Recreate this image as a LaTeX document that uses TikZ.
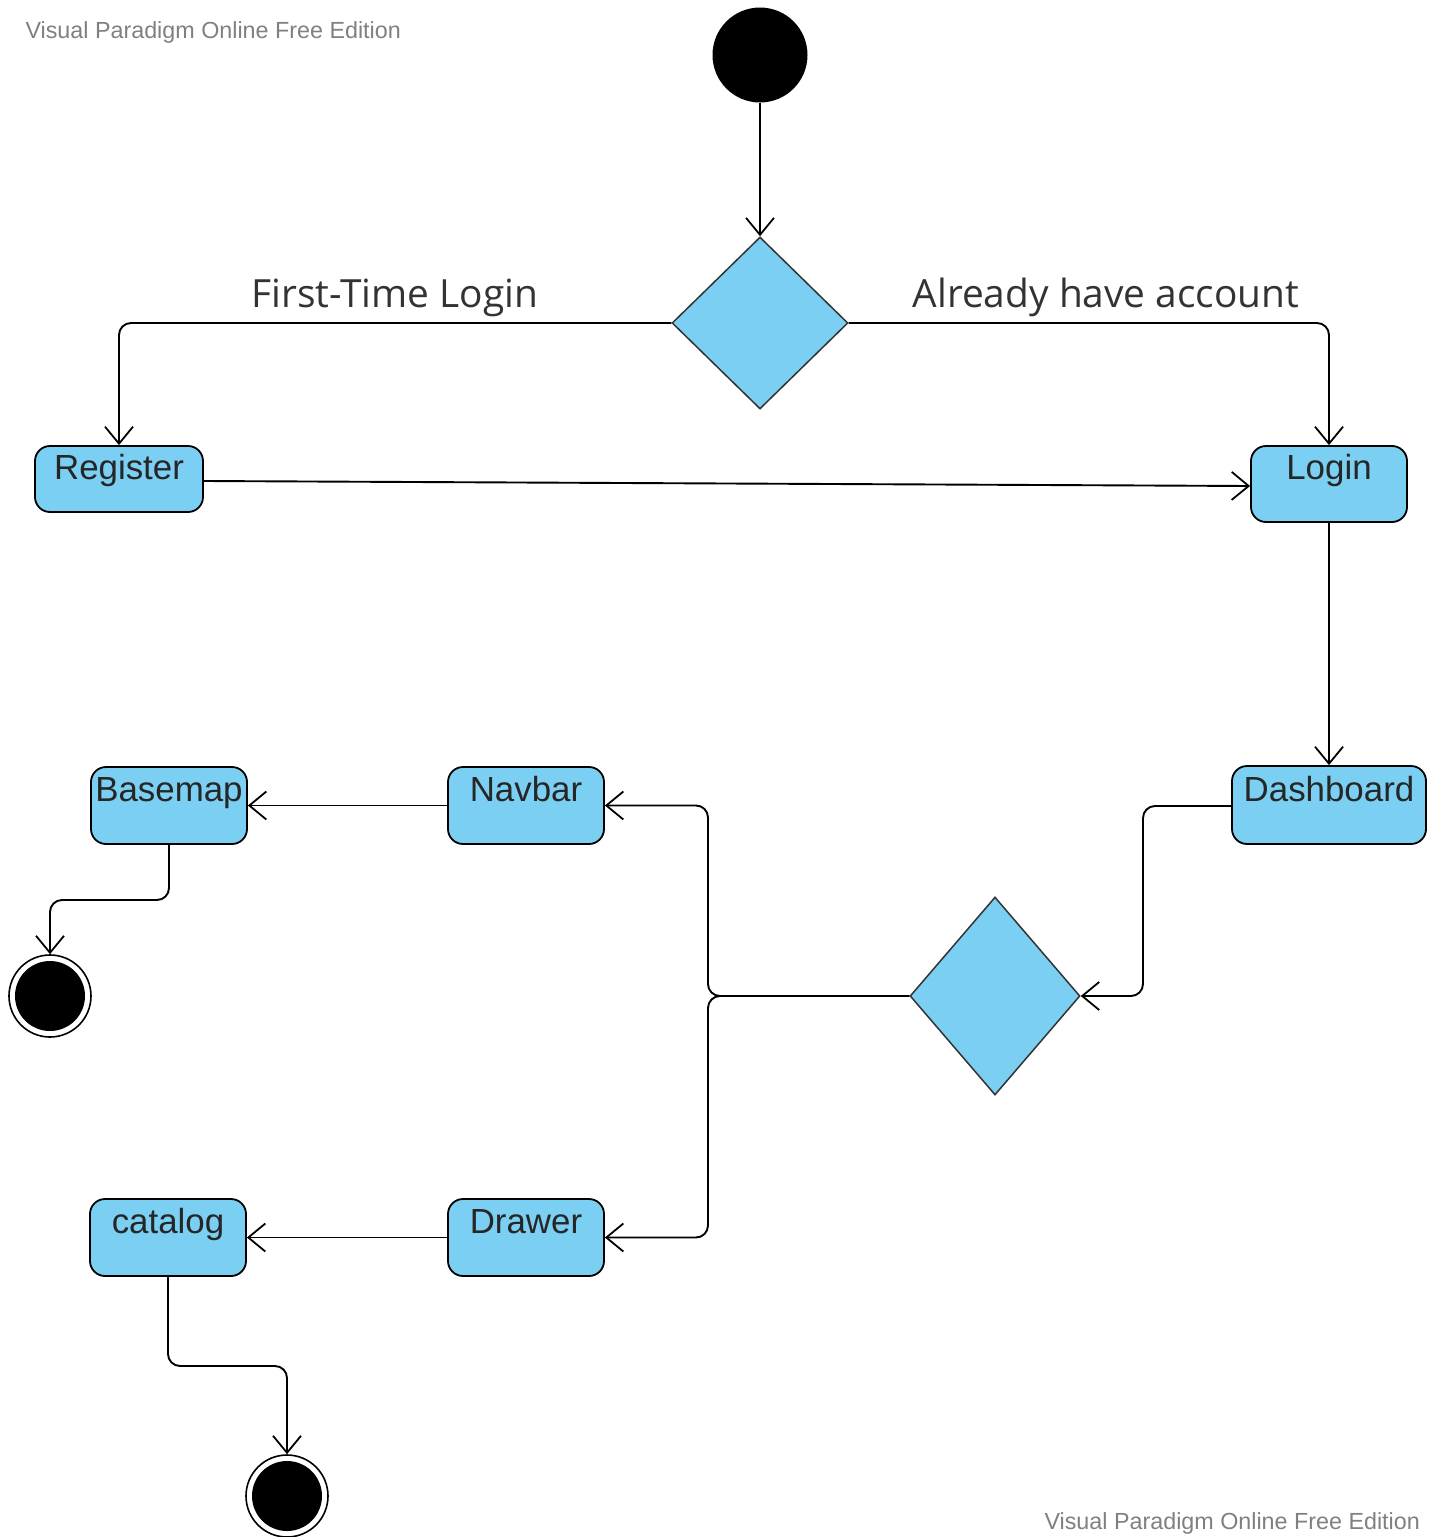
\documentclass[tikz,border=0pt]{standalone}
\usepackage{fontspec}
\setmainfont{Liberation Sans}
\newfontfamily\labelfont{Open Sans}
\usetikzlibrary{arrows.meta,shapes.geometric}
\definecolor{actfill}{RGB}{122,207,242}
\definecolor{wmgray}{RGB}{128,128,128}
\definecolor{lbltext}{RGB}{51,51,51}
\tikzset{
  act/.style={draw=black, line width=1.8bp, fill=actfill, rounded corners=15bp, inner sep=0pt},
  acttext/.style={font=\fontsize{35}{38}\selectfont, text=black!85, anchor=base},
  dec/.style={draw=black!80, line width=1.5bp, fill=actfill, diamond, inner sep=0pt},
  flow/.style={draw=black, line width=1.9bp, rounded corners=12bp, -{Straight Barb[length=17bp,width=28bp,line width=1.8bp]}},
  finalout/.style={circle, draw=black, line width=1.6bp, fill=white, inner sep=0pt, minimum size=82bp},
  finalin/.style={circle, fill=black, inner sep=0pt, minimum size=70bp},
  guard/.style={font=\labelfont\fontsize{39}{42}\selectfont, text=lbltext, anchor=base},
  wm/.style={font=\fontsize{23.4}{25}\selectfont, text=wmgray, anchor=base west},
}
\begin{document}
\begin{tikzpicture}[x=1bp,y=-1bp]
\useasboundingbox (0,0) rectangle (1437,1537);
% watermarks
\node[wm] (wm1) at (22,39) {Visual Paradigm Online Free Edition};
\node[wm] (wm2) at (1041,1529) {Visual Paradigm Online Free Edition};
% start
\node[circle, fill=black, inner sep=0pt, minimum size=95bp] (start) at (760,55) {};
% decision 1
\node[dec, minimum width=176bp, minimum height=172bp] (d1) at (760,323) {};
% activities
\node[act, minimum width=168bp, minimum height=66bp] (register) at (119,479) {};
\node[acttext] (registert) at (119,479) {Register};
\node[act, minimum width=156bp, minimum height=76bp] (login) at (1329,484) {};
\node[acttext] (logint) at (1329,479) {Login};
\node[act, minimum width=194bp, minimum height=78bp] (dash) at (1329,805) {};
\node[acttext] (dasht) at (1329,801) {Dashboard};
\node[dec, minimum width=170bp, minimum height=198bp] (d2) at (995,996) {};
\node[act, minimum width=156bp, minimum height=77bp] (navbar) at (526,805.5) {};
\node[acttext] (navbart) at (526,801) {Navbar};
\node[act, minimum width=156bp, minimum height=77bp] (basemap) at (169,805.5) {};
\node[acttext] (basemapt) at (169,801) {Basemap};
\node[act, minimum width=156bp, minimum height=77bp] (drawer) at (526,1237.5) {};
\node[acttext] (drawert) at (526,1233) {Drawer};
\node[act, minimum width=156bp, minimum height=77bp] (catalog) at (168,1237.5) {};
\node[acttext] (catalogt) at (168,1233) {catalog};
% finals
\node[finalout] (f1) at (50,996) {};
\node[finalin] (f1i) at (50,996) {};
\node[finalout] (f2) at (287,1496) {};
\node[finalin] (f2i) at (287,1496) {};
% guards
\node[guard] (g1) at (395,307) {First-Time Login};
\node[guard] (g2) at (1106,307) {Already have account};
% flows
\draw[flow] (start) -- (d1.north);
\draw[flow] (d1.west) -| (register.north);
\draw[flow] (d1.east) -| (login.north);
\draw[flow] (register.east |- 0,481) -- (login.west |- 0,486);
\draw[flow] (login.south) -- (dash.north);
\coordinate (j1) at (1143,996);
\draw[flow] (dash.west |- 0,806) -| (j1) -- (d2.east);
\coordinate (j2) at (708,996);
\draw[flow] (d2.west) -| (j2 |- navbar.east) -- (navbar.east);
\draw[flow] (d2.west) -| (j2 |- drawer.east) -- (drawer.east);
\draw[flow] (navbar.west) -- (basemap.east);
\draw[flow] (drawer.west) -- (catalog.east);
\coordinate (b1) at (0,900);
\draw[flow] (basemap.south) -- (basemap.south |- b1) -| (f1.north);
\coordinate (c1) at (0,1366);
\draw[flow] (catalog.south) -- (catalog.south |- c1) -| (f2.north);
\end{tikzpicture}
\end{document}
